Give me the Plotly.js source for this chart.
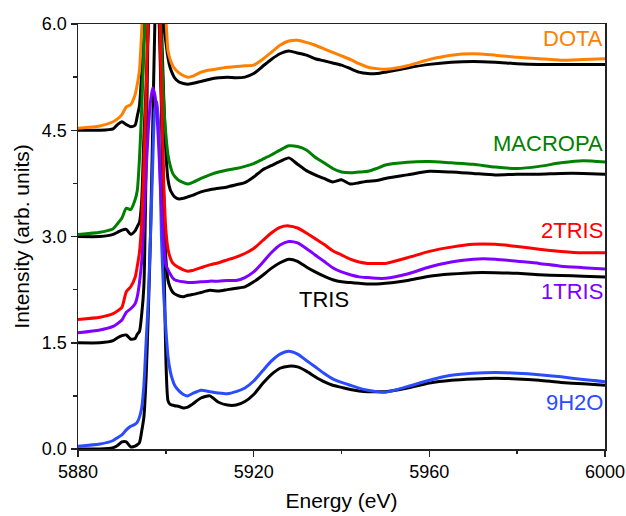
<!DOCTYPE html>
<html>
<head>
<meta charset="utf-8">
<script src="https://cdn.plot.ly/plotly-3.0.1.min.js"></script>
<style>html,body{margin:0;padding:0;background:#fff;}#chart{width:626px;height:516px;}</style>
</head>
<body>
<div id="chart"></div>
<script>
const energy = [5880,5885,5888,5889,5890,5891,5892,5893,5893.5,5894,5894.5,5895,5895.5,5896,5896.5,5897,5897.5,5898,5898.5,5899,5899.5,5900,5900.5,5901,5901.5,5902,5903,5904,5905,5906,5908,5910,5912,5914,5916,5918,5920,5922,5924,5926,5928,5930,5932,5934,5936,5938,5940,5942,5944,5946,5948,5950,5955,5960,5965,5970,5975,5980,5985,5990,5995,6000];

const dota = [4.53,4.56,4.62,4.66,4.72,4.83,4.86,5.0,5.15,5.35,5.9,6.6,7.2,7.8,8.3,8.6,8.7,8.6,8.2,7.4,6.8,6.1,5.62,5.5,5.42,5.37,5.31,5.27,5.25,5.26,5.32,5.35,5.37,5.39,5.40,5.41,5.42,5.50,5.60,5.70,5.76,5.77,5.74,5.70,5.65,5.60,5.55,5.50,5.44,5.39,5.37,5.36,5.41,5.50,5.56,5.58,5.56,5.53,5.51,5.49,5.50,5.51];
const dotaRef = [4.50,4.50,4.52,4.58,4.62,4.58,4.55,4.57,4.70,4.85,5.3,5.8,6.4,7.2,7.9,8.3,8.5,8.4,7.9,7.0,6.0,5.75,5.52,5.38,5.30,5.24,5.18,5.16,5.15,5.16,5.19,5.22,5.24,5.25,5.24,5.25,5.30,5.40,5.50,5.58,5.62,5.59,5.56,5.51,5.48,5.45,5.42,5.37,5.32,5.30,5.30,5.32,5.38,5.43,5.46,5.47,5.46,5.44,5.43,5.43,5.43,5.43];
const macropa = [3.03,3.06,3.11,3.18,3.26,3.40,3.38,3.52,3.65,4.1,4.8,5.6,6.4,7.2,7.8,8.1,8.0,7.5,6.6,5.7,4.9,4.45,4.15,4.0,3.9,3.85,3.79,3.76,3.74,3.76,3.82,3.87,3.91,3.94,3.96,3.99,4.03,4.09,4.15,4.22,4.28,4.27,4.22,4.12,4.04,3.96,3.91,3.90,3.91,3.92,3.96,4.01,4.05,4.06,4.04,4.02,3.98,3.96,3.99,4.04,4.07,4.05];
const macropaRef = [3.00,3.00,3.03,3.06,3.09,3.10,3.03,3.08,3.14,3.2,3.5,4.4,5.1,6.0,7.0,7.7,8.0,7.8,7.0,6.0,5.0,4.2,3.80,3.66,3.60,3.56,3.53,3.54,3.56,3.58,3.63,3.66,3.68,3.70,3.73,3.76,3.84,3.94,4.00,4.06,4.11,4.02,3.93,3.87,3.82,3.77,3.80,3.74,3.76,3.78,3.79,3.82,3.87,3.92,3.91,3.89,3.87,3.88,3.88,3.89,3.89,3.88];
const tris2 = [1.83,1.86,1.91,1.95,2.00,2.22,2.29,2.42,2.58,2.78,3.2,4.0,5.0,6.1,6.9,7.5,7.7,7.5,6.4,5.0,3.8,3.1,2.82,2.70,2.63,2.60,2.56,2.53,2.51,2.52,2.56,2.60,2.63,2.67,2.71,2.76,2.83,2.94,3.05,3.13,3.15,3.12,3.05,2.97,2.89,2.80,2.74,2.68,2.64,2.62,2.62,2.62,2.70,2.79,2.85,2.89,2.89,2.86,2.82,2.79,2.77,2.77];
const tris1 = [1.64,1.68,1.73,1.77,1.82,1.93,1.98,2.05,2.15,2.35,2.65,3.2,3.9,4.5,4.9,5.1,5.0,4.7,4.1,3.4,2.9,2.6,2.53,2.47,2.42,2.39,2.37,2.36,2.35,2.35,2.36,2.37,2.37,2.38,2.38,2.42,2.50,2.63,2.77,2.88,2.93,2.91,2.83,2.74,2.65,2.56,2.50,2.46,2.43,2.42,2.41,2.41,2.47,2.57,2.64,2.68,2.68,2.65,2.62,2.58,2.56,2.54];
const trisRef = [1.50,1.50,1.53,1.57,1.60,1.61,1.55,1.56,1.62,1.66,1.9,2.3,4.0,6.2,7.5,8.0,7.8,7.0,6.0,4.8,3.6,2.7,2.38,2.28,2.22,2.19,2.16,2.15,2.17,2.18,2.21,2.24,2.23,2.25,2.27,2.29,2.36,2.45,2.55,2.63,2.68,2.65,2.57,2.50,2.44,2.39,2.36,2.35,2.34,2.33,2.33,2.34,2.38,2.44,2.47,2.49,2.49,2.48,2.46,2.45,2.44,2.43];
const h2o9 = [0.04,0.07,0.12,0.16,0.20,0.27,0.32,0.35,0.38,0.45,0.58,0.9,1.5,2.1,3.0,4.0,4.8,4.9,4.4,3.0,2.2,1.7,1.3,1.1,0.98,0.90,0.82,0.77,0.75,0.78,0.83,0.81,0.79,0.78,0.81,0.86,0.96,1.10,1.24,1.34,1.38,1.34,1.25,1.16,1.07,0.99,0.94,0.90,0.86,0.83,0.81,0.80,0.88,0.97,1.04,1.07,1.08,1.07,1.05,1.02,0.98,0.95];
const h2o9Ref = [0.00,0.00,0.02,0.05,0.10,0.10,0.03,0.04,0.06,0.09,0.25,0.45,1.0,1.9,3.0,4.5,6.0,7.0,6.5,5.0,3.0,1.3,0.68,0.63,0.62,0.61,0.60,0.58,0.59,0.63,0.72,0.75,0.66,0.62,0.62,0.67,0.77,0.92,1.05,1.14,1.17,1.16,1.10,1.02,0.95,0.90,0.87,0.84,0.82,0.81,0.81,0.81,0.86,0.93,0.97,0.99,1.00,0.99,0.97,0.94,0.92,0.90];

const seriesNames = ['DOTA','MACROPA','2TRIS','1TRIS','9H2O','TRIS'];
const labelX = [6000,6000,6000,6000,6000,5936];
const labelY = [5.80,4.32,3.09,2.22,0.65,2.11];

const C = {dota:'#FF8000', macropa:'#008000', tris2:'#FF0000', tris1:'#8000FF', h2o9:'#2B4BFF', ref:'#000000'};

function tr(y, color) {
  return {x: energy, y: y, type:'scatter', mode:'lines',
    line:{color: color, width: 3, shape:'spline', smoothing:0.6},
    hoverinfo:'skip', showlegend:false};
}
const data = [
  tr(dotaRef, C.ref), tr(macropaRef, C.ref), tr(trisRef, C.ref), tr(h2o9Ref, C.ref),
  tr(dota, C.dota), tr(macropa, C.macropa), tr(h2o9, C.h2o9), tr(tris1, C.tris1), tr(tris2, C.tris2)
];

const FONT = 'Liberation Sans, Arial, sans-serif';
const labelColors = [C.dota, C.macropa, C.tris2, C.tris1, C.h2o9, C.ref];
const annotations = seriesNames.map((n,i)=>({
  x: labelX[i], y: labelY[i], xref:'x', yref:'y', text: n, showarrow:false,
  xanchor: i===5 ? 'center' : 'right', yanchor:'middle',
  font:{family:FONT, size:22, color: labelColors[i]}
}));

const axisCommon = {
  showline:true, mirror:true, linecolor:'#222', linewidth:1.5,
  ticks:'outside', ticklen:6, tickwidth:1.5, tickcolor:'#222',
  showgrid:false, zeroline:false,
  tickfont:{family:FONT, size:18, color:'#000'}
};

const layout = {
  width:626, height:516,
  margin:{l:78, r:21, t:24, b:67},
  paper_bgcolor:'#fff', plot_bgcolor:'#fff',
  xaxis: Object.assign({}, axisCommon, {
    range:[5880,6000], tick0:5880, dtick:40,
    minor:{dtick:20, ticks:'outside', ticklen:3.5, tickwidth:1.5, tickcolor:'#222', showgrid:false},
    title:{text:'Energy (eV)', standoff:12, font:{family:FONT, size:21, color:'#000'}}
  }),
  yaxis: Object.assign({}, axisCommon, {
    range:[0,6], tick0:0, dtick:1.5, tickformat:'.1f',
    minor:{dtick:0.75, ticks:'outside', ticklen:3.5, tickwidth:1.5, tickcolor:'#222', showgrid:false},
    title:{text:'Intensity (arb. units)', standoff:6, font:{family:FONT, size:21, color:'#000'}}
  }),
  annotations: annotations
};

Plotly.newPlot('chart', data, layout, {displayModeBar:false, staticPlot:true});
</script>
</body>
</html>
